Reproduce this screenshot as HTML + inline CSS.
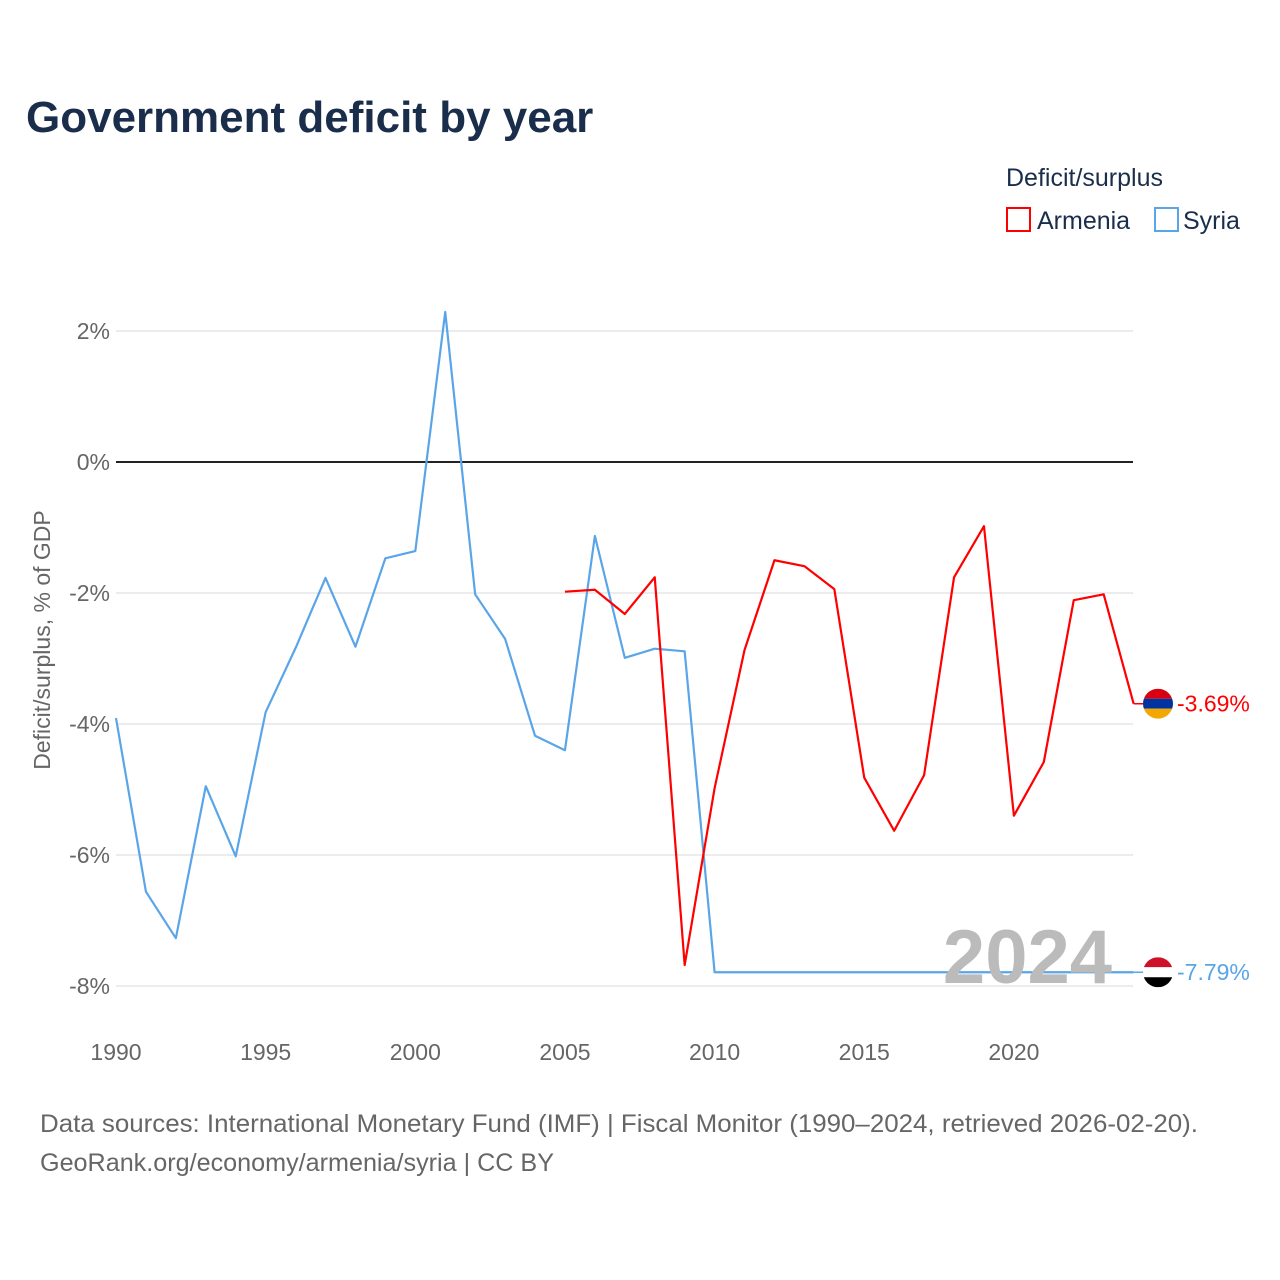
<!DOCTYPE html>
<html><head><meta charset="utf-8"><style>
body{margin:0;background:#fff;font-family:"Liberation Sans",sans-serif}
#wrap{position:relative;width:1280px;height:1280px;overflow:hidden}
</style></head><body>
<div id="wrap">
<svg id="svg" width="1280" height="1280" xmlns="http://www.w3.org/2000/svg">
<text x="26" y="132" font-size="44" font-weight="bold" fill="#1a2e4c">Government deficit by year</text>
<text x="1006" y="186" font-size="25" fill="#1a2e4c">Deficit/surplus</text>
<g><rect x="1007" y="208" width="23" height="23" fill="none" stroke="#f00" stroke-width="2"/><text x="1037" y="229" font-size="25" fill="#1a2e4c">Armenia</text></g>
<g><rect x="1155" y="208" width="23" height="23" fill="none" stroke="#5aa5e8" stroke-width="2"/><text x="1183" y="229" font-size="25" fill="#1a2e4c">Syria</text></g>
<text transform="translate(50,640) rotate(-90)" text-anchor="middle" font-size="23" fill="#666">Deficit/surplus, % of GDP</text>
<g id="grid"></g><g id="series"></g>
<text x="1112" y="983" text-anchor="end" font-size="76" font-weight="bold" fill="#bbb">2024</text>
<text x="40" y="1132" font-size="25" fill="#666" textLength="1158" lengthAdjust="spacingAndGlyphs">Data sources: International Monetary Fund (IMF) | Fiscal Monitor (1990–2024, retrieved 2026-02-20).</text>
<text x="40" y="1171" font-size="25" fill="#666" textLength="514" lengthAdjust="spacingAndGlyphs">GeoRank.org/economy/armenia/syria | CC BY</text>
</svg></div>
<script>
const years=[1990,1991,1992,1993,1994,1995,1996,1997,1998,1999,2000,2001,2002,2003,2004,2005,2006,2007,2008,2009,2010,2011,2012,2013,2014,2015,2016,2017,2018,2019,2020,2021,2022,2023,2024];
const syria=[-3.91,-6.56,-7.27,-4.95,-6.02,-3.82,-2.84,-1.77,-2.82,-1.47,-1.36,2.29,-2.02,-2.70,-4.18,-4.40,-1.13,-2.99,-2.85,-2.89,-7.79,-7.79,-7.79,-7.79,-7.79,-7.79,-7.79,-7.79,-7.79,-7.79,-7.79,-7.79,-7.79,-7.79,-7.79];
const armenia=[null,null,null,null,null,null,null,null,null,null,null,null,null,null,null,-1.98,-1.95,-2.32,-1.76,-7.68,-4.98,-2.87,-1.50,-1.59,-1.94,-4.82,-5.63,-4.78,-1.76,-0.98,-5.40,-4.58,-2.11,-2.02,-3.69];
const yTicks=[2,0,-2,-4,-6,-8];
const xTicks=[1990,1995,2000,2005,2010,2015,2020];
const NS="http://www.w3.org/2000/svg";
const X=y=>116+(y-1990)*29.93;
const Y=v=>462-v*65.5;
const grid=document.getElementById('grid'),ser=document.getElementById('series');
function mk(tag,attrs,parent){const e=document.createElementNS(NS,tag);for(const k in attrs)e.setAttribute(k,attrs[k]);parent.appendChild(e);return e;}
yTicks.forEach(t=>{
 const l=mk('line',{x1:116,x2:1133,y1:Y(t),y2:Y(t),stroke:t===0?'#222':'#e6e6e6','stroke-width':t===0?2:1.5},grid);
 
 
 const tx=mk('text',{x:110,y:Y(t)+8,'text-anchor':'end','font-size':23,fill:'#666'},grid);
 tx.textContent=t+'%';
 
 
});
xTicks.forEach(t=>{
 const tx=mk('text',{x:X(t),y:1060,'text-anchor':'middle','font-size':23,fill:'#666'},grid);
 tx.textContent=t;
 
 
});
function line(vals,color,name){
 let d='';let started=false;
 vals.forEach((v,i)=>{if(v===null)return;d+=(started?'L':'M')+X(years[i])+','+Y(v);started=true;});
 const p=mk('path',{d:d,fill:'none',stroke:color,'stroke-width':2.2,'stroke-linejoin':'round'},ser);
 
 
 const last=vals[vals.length-1];
 const c=mk('line',{x1:X(2024),x2:1158,y1:Y(last),y2:Y(last),stroke:color,'stroke-width':1.5},ser);
 
 
 return last;
}
const sl=line(syria,'#5aa5e8','syria-line');
const al=line(armenia,'#f00','armenia-line');
function flag(cy,cols,name){
 const g=mk('g',{},ser);
 
 
 const id='c'+name;
 const cp=mk('clipPath',{id:id},g);mk('circle',{cx:1158,cy:cy,r:15},cp);
 cols.forEach((c,i)=>mk('rect',{x:1143,y:cy-15+i*10,width:30,height:10,fill:c,'clip-path':'url(#'+id+')'},g));
 return g;
}
flag(Y(al),['#d90012','#0033a0','#f2a800'],'armenia-flag');
flag(Y(sl),['#ce1126','#ffffff','#000000'],'syria-flag');
const al1=mk('text',{x:1177,y:Y(al)+8,'font-size':23,fill:'#f00'},ser);al1.textContent=al.toFixed(2)+'%';


const sl1=mk('text',{x:1177,y:Y(sl)+8,'font-size':23,fill:'#5aa5e8'},ser);sl1.textContent=sl.toFixed(2)+'%';


</script>
</body></html>
